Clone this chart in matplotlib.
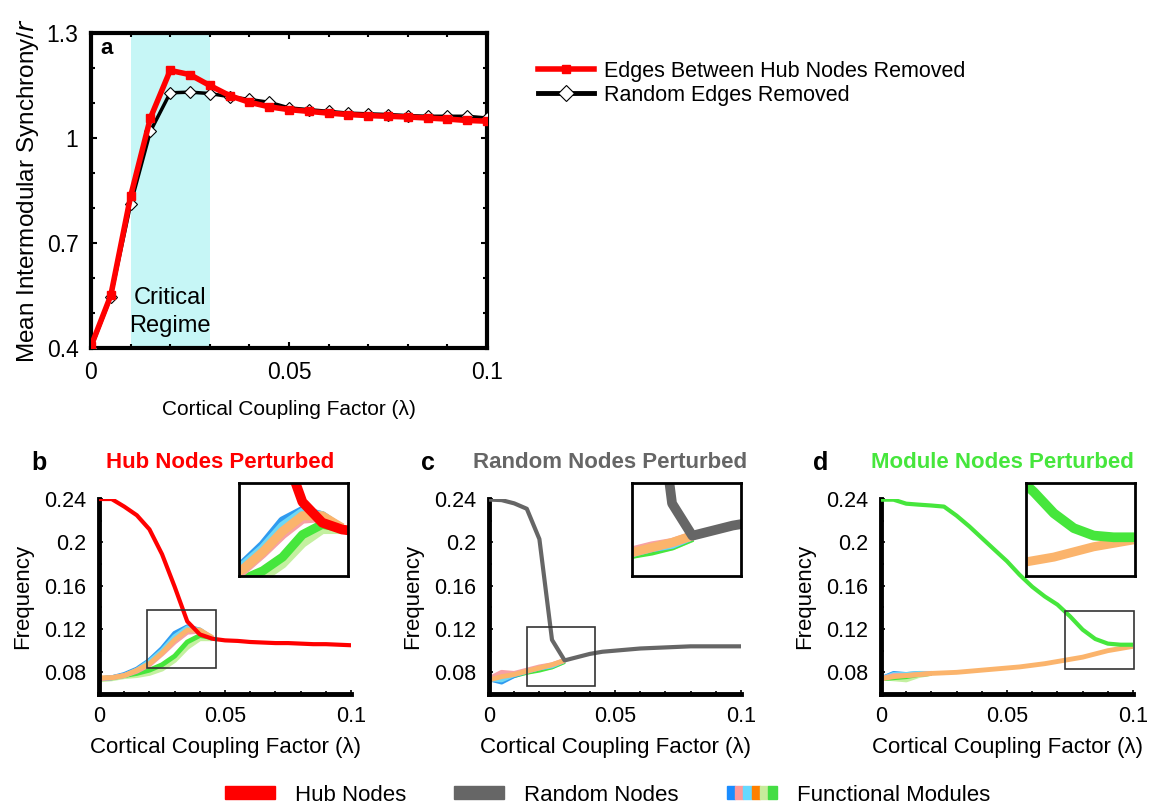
""" coupling factor synchrony / frequency figure """
import matplotlib
import matplotlib.pyplot as plt
from matplotlib.lines import Line2D
from matplotlib.patches import Patch, Rectangle
from matplotlib.legend_handler import HandlerTuple
from matplotlib.ticker import MultipleLocator
matplotlib.use('agg')

plt.rcParams['font.family'] = ['Liberation Sans', 'DejaVu Sans']

# coupling factor values
lam = [0.0, 0.005, 0.01, 0.015, 0.02, 0.025, 0.03, 0.035, 0.04, 0.045, 0.05,
       0.055, 0.06, 0.065, 0.07, 0.075, 0.08, 0.085, 0.09, 0.095, 0.1]

# panel a - mean intermodular synchrony
sync_hub = [0.405, 0.55, 0.833, 1.057, 1.193, 1.181, 1.15, 1.121, 1.102, 1.089,
            1.081, 1.076, 1.071, 1.067, 1.064, 1.062, 1.06, 1.057, 1.054, 1.05,
            1.048]
sync_rand = [0.4, 0.546, 0.81, 1.019, 1.129, 1.131, 1.127, 1.118, 1.11, 1.102,
             1.086, 1.081, 1.076, 1.071, 1.069, 1.067, 1.064, 1.062, 1.062,
             1.062, 1.057]
critical = [0.01, 0.03]

# functional module colours (legend order)
mod_names = ["blue", "pink", "light blue", "orange", "light green", "green"]
mod_colors = ["#2f9bf0", "#f7a0a4", "#6ed8f5", "#fbb46c", "#c4f0a0", "#46e63c"]
legend_colors = ["#1a8cff", "#ff9999", "#66d9ff", "#ff8000", "#c8eb9b", "#44dd44"]

# panel b - hub nodes perturbed
freq_hub = [0.240, 0.240, 0.233, 0.225, 0.212, 0.189, 0.159, 0.127, 0.115,
            0.111, 0.1095, 0.109, 0.108, 0.1075, 0.107, 0.107, 0.1065, 0.106,
            0.106, 0.1055, 0.105]
mods_b = [
    [0.074, 0.075, 0.078, 0.083, 0.091, 0.102, 0.116, 0.122, 0.119, 0.111],
    [0.074, 0.075, 0.077, 0.081, 0.087, 0.097, 0.108, 0.117, 0.118, 0.112],
    [0.074, 0.075, 0.077, 0.082, 0.090, 0.100, 0.113, 0.121, 0.119, 0.111],
    [0.075, 0.075, 0.077, 0.082, 0.088, 0.098, 0.110, 0.119, 0.119, 0.112],
    [0.073, 0.074, 0.076, 0.077, 0.079, 0.083, 0.091, 0.103, 0.111, 0.111],
    [0.074, 0.075, 0.077, 0.079, 0.082, 0.087, 0.095, 0.108, 0.114, 0.112],
]

# panel c - random nodes perturbed
freq_rand = [0.2395, 0.239, 0.236, 0.231, 0.203, 0.110, 0.091, 0.094, 0.097,
             0.099, 0.100, 0.101, 0.102, 0.1025, 0.103, 0.1035, 0.104, 0.104,
             0.104, 0.104, 0.104]
mods_c = [
    [0.074, 0.071, 0.077, 0.081, 0.084, 0.086, 0.091],
    [0.074, 0.080, 0.079, 0.082, 0.085, 0.087, 0.091],
    [0.074, 0.073, 0.078, 0.081, 0.084, 0.086, 0.091],
    [0.073, 0.076, 0.078, 0.081, 0.084, 0.087, 0.091],
    [0.075, 0.075, 0.077, 0.080, 0.083, 0.085, 0.090],
    [0.075, 0.075, 0.077, 0.080, 0.082, 0.085, 0.090],
]

# panel d - module nodes perturbed
freq_mod = [0.2394, 0.2394, 0.2357, 0.2348, 0.234, 0.233, 0.2246, 0.2148,
            0.204, 0.1932, 0.1825, 0.170, 0.159, 0.150, 0.1425, 0.1317, 0.1194,
            0.1108, 0.1065, 0.1055, 0.1055]
mods_d = [
    [0.074, 0.079, 0.078, 0.079, 0.079],
    [0.074, 0.077, 0.077, 0.078, 0.079],
    [0.074, 0.078, 0.078, 0.079, 0.079],
    [0.074, 0.076, 0.077, 0.078, 0.079, 0.0795, 0.080, 0.081, 0.082, 0.083,
     0.084, 0.085, 0.0865, 0.088, 0.090, 0.092, 0.094, 0.097, 0.100, 0.102,
     0.104],
    [0.075, 0.074, 0.073, 0.077, 0.079],
    [0.074, 0.075, 0.076, 0.078, 0.079],
]

# zoom boxes (lam0, lam1, f0, f1)
zoom_b = [0.019, 0.0465, 0.084, 0.138]
zoom_c = [0.0151, 0.042, 0.0673, 0.122]
zoom_d = [0.073, 0.1004, 0.083, 0.137]

RED = "#ff0000"
GREY = "#666666"
GREEN = "#46e63c"

fig = plt.figure(figsize=(11.53, 8.08), dpi=100)

# ---- panel a ----
ax = fig.add_axes([0.0789, 0.5693, 0.3435, 0.3899])
ax.axvspan(critical[0], critical[1], color="#c6f6f6", lw=0, zorder=0)
ax.plot(lam, sync_rand, color="black", lw=2.5, marker="D", ms=6.5,
        mfc="white", mec="black", mew=0.8, zorder=3)
ax.plot(lam, sync_hub, color=RED, lw=4, marker="s", ms=6, mfc=RED,
        mec=RED, zorder=4)
ax.set_xlim(0, 0.1)
ax.set_ylim(0.4, 1.3)
ax.set_xticks([0, 0.05, 0.1])
ax.set_xticklabels(["0", "0.05", "0.1"])
ax.set_yticks([0.4, 0.7, 1.0, 1.3])
ax.set_yticklabels(["0.4", "0.7", "1", "1.3"])
ax.xaxis.set_minor_locator(MultipleLocator(0.01))
ax.yaxis.set_minor_locator(MultipleLocator(0.1))
ax.tick_params(which="both", direction="in", top=True, right=True,
               labelsize=16.5, width=1.5)
ax.tick_params(which="major", length=4, pad=9)
ax.tick_params(which="minor", length=3)
for sp in ax.spines.values():
    sp.set_linewidth(3)
ax.set_xlabel("Cortical Coupling Factor (\u03bb)", fontsize=15, labelpad=12)
ax.set_ylabel("Mean Intermodular Synchrony/$r$", fontsize=17.5, labelpad=4)
ax.text(0.02, 0.503, "Critical\nRegime", ha="center", va="center",
        fontsize=17, linespacing=1.3)
ax.text(0.0025, 1.255, "a", fontsize=16, fontweight="bold", va="center")

leg_a = [Line2D([], [], color=RED, lw=4, marker="s", ms=6, mfc=RED, mec=RED),
         Line2D([], [], color="black", lw=3.5, marker="D", ms=8, mfc="white",
                mec="black", mew=0.8)]
fig.legend(leg_a, ["Edges Between Hub Nodes Removed", "Random Edges Removed"],
           loc="upper left", bbox_to_anchor=(0.45, 0.949), frameon=False,
           fontsize=15.5, handlelength=2.6, handletextpad=0.45,
           labelspacing=0.15)


# ---- panels b, c, d ----
def small_panel(left, main, main_col, mods, box, inset_left, title,
                title_col, letter):
    """ draw one frequency panel with its inset """
    ax = fig.add_axes([left, 0.1411, 0.2186, 0.2413])
    order = [4, 5, 0, 2, 1, 3]
    for i in order:
        v = mods[i]
        ax.plot(lam[:len(v)], v, color=mod_colors[i], lw=3.5,
                solid_capstyle="butt", zorder=2)
    ax.plot(lam, main, color=main_col, lw=3, zorder=3)
    ax.set_xlim(0, 0.1)
    ax.set_ylim(0.06, 0.24)
    ax.set_xticks([0, 0.05, 0.1])
    ax.set_xticklabels(["0", "0.05", "0.1"])
    ax.set_yticks([0.08, 0.12, 0.16, 0.2, 0.24])
    ax.set_yticklabels(["0.08", "0.12", "0.16", "0.2", "0.24"])
    ax.xaxis.set_minor_locator(MultipleLocator(0.01))
    ax.yaxis.set_minor_locator(MultipleLocator(0.02))
    ax.tick_params(which="both", direction="in", labelsize=15.5, width=1.2)
    ax.tick_params(which="major", length=3, pad=9)
    ax.tick_params(which="minor", length=2)
    ax.spines["top"].set_visible(False)
    ax.spines["right"].set_visible(False)
    ax.spines["left"].set_linewidth(3.5)
    ax.spines["bottom"].set_linewidth(3.5)
    ax.set_xlabel("Cortical Coupling Factor (\u03bb)", fontsize=16, labelpad=7)
    ax.set_ylabel("Frequency", fontsize=16, labelpad=8)
    ax.add_patch(Rectangle((box[0], box[2]), box[1] - box[0], box[3] - box[2],
                           fill=False, ec="#333333", lw=1.2, zorder=5,
                           clip_on=False))
    ax.text(0.48, 1.185, title, color=title_col, fontsize=16,
            fontweight="bold", ha="center", va="center",
            transform=ax.transAxes)
    ax.text(-0.27, 1.185, letter, fontsize=18, fontweight="bold",
            ha="left", va="center", transform=ax.transAxes)

    ins = fig.add_axes([inset_left, 0.2871, 0.0945, 0.1151])
    for i in order:
        v = mods[i]
        ins.plot(lam[:len(v)], v, color=mod_colors[i], lw=6.5,
                 solid_capstyle="butt")
    ins.plot(lam, main, color=main_col, lw=7)
    ins.set_xlim(box[0], box[1])
    ins.set_ylim(box[2], box[3])
    ins.set_xticks([])
    ins.set_yticks([])
    for sp in ins.spines.values():
        sp.set_linewidth(2)
    return ax


small_panel(0.0859, freq_hub, RED, mods_b, zoom_b, 0.2073,
            "Hub Nodes Perturbed", RED, "b")
small_panel(0.4241, freq_rand, GREY, mods_c, zoom_c, 0.5481,
            "Random Nodes Perturbed", GREY, "c")
small_panel(0.7641, freq_mod, GREEN, mods_d, zoom_d, 0.8899,
            "Module Nodes Perturbed", GREEN, "d")

# bottom legend
handles = [Patch(color=RED), Patch(color=GREY),
           tuple(Patch(color=c) for c in legend_colors)]
fig.legend(handles, ["Hub Nodes", "Random Nodes", "Functional Modules"],
           loc="center", bbox_to_anchor=(0.527, 0.016), ncol=3, frameon=False,
           fontsize=16, handlelength=2.25, handleheight=0.55,
           handletextpad=0.9, columnspacing=2.15,
           handler_map={tuple: HandlerTuple(ndivide=None, pad=0)})

plt.savefig("out.png", dpi=100)
